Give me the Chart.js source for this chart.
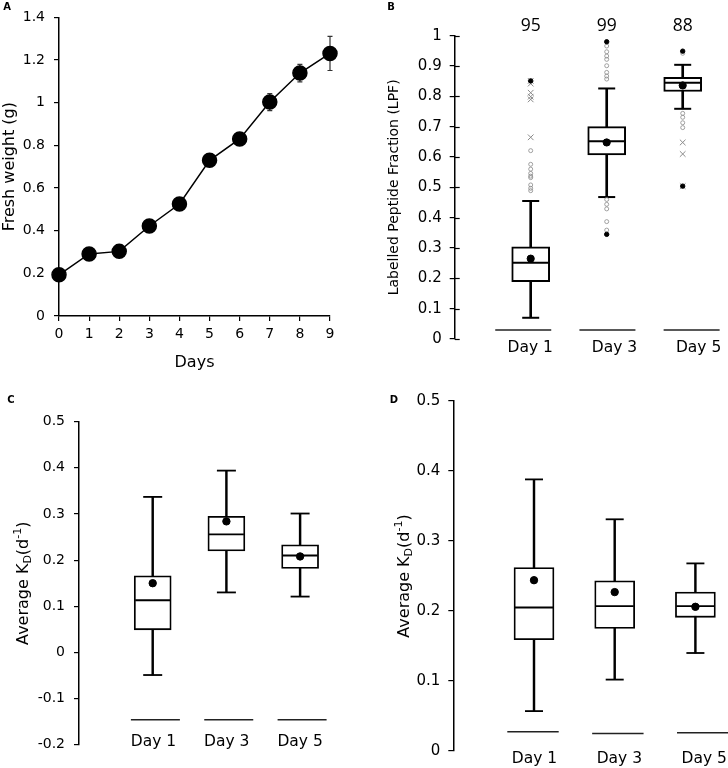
<!DOCTYPE html>
<html><head><meta charset="utf-8">
<script src="https://cdn.jsdelivr.net/npm/chart.js@4.4.0/dist/chart.umd.min.js"></script>
<style>
html,body{margin:0;padding:0;background:#fff;}
#wrap{position:relative;width:728px;height:768px;background:#fff;}
.p{position:absolute;width:364px;height:384px;}
canvas{display:block;}
</style></head><body>
<div id="wrap">
<div class="p" style="left:0;top:0"><canvas id="cA" width="364" height="384"></canvas></div>
<div class="p" style="left:364px;top:0"><canvas id="cB" width="364" height="384"></canvas></div>
<div class="p" style="left:0;top:384px"><canvas id="cC" width="364" height="384"></canvas></div>
<div class="p" style="left:364px;top:384px"><canvas id="cD" width="364" height="384"></canvas></div>
</div>
<script>
// ---------- DATA ----------
// Panel A
const days = [0, 1, 2, 3, 4, 5, 6, 7, 8, 9];
const freshWeight = [0.193, 0.291, 0.303, 0.422, 0.525, 0.730, 0.830, 1.003, 1.139, 1.231];
const freshWeightErr = [0.012, 0.012, 0.012, 0.02, 0.02, 0.015, 0.015, 0.04, 0.041, 0.08];

// Shared categories
const dayLabels = ['Day 1', 'Day 3', 'Day 5'];

// Panel B: Labelled Peptide Fraction
const lpfMin = [0.070, 0.468, 0.759];
const lpfQ1 = [0.189, 0.607, 0.816];
const lpfMedian = [0.251, 0.652, 0.845];
const lpfQ3 = [0.304, 0.700, 0.863];
const lpfMax = [0.455, 0.826, 0.904];
const lpfMean = [0.265, 0.648, 0.836];
const lpfCount = [95, 99, 88];
const lpfOutCircle = [
  [0.489, 0.497, 0.508, 0.532, 0.537, 0.546, 0.560, 0.576, 0.621],
  [0.857, 0.867, 0.879, 0.901, 0.922, 0.933, 0.947, 0.966, 0.460, 0.444, 0.429, 0.387, 0.359],
  [0.942, 0.744, 0.731, 0.713, 0.697]
];
const lpfOutCross = [
  [0.665, 0.790, 0.799, 0.812, 0.842, 0.851],
  [],
  [0.648, 0.610, 0.504]
];
const lpfOutExtreme = [[0.851], [0.980, 0.345], [0.949, 0.504]];
const lpfBaseline = [0.03, 0.03, 0.03];

// Panel C: Average KD
const kdCMin = [-0.049, 0.130, 0.121];
const kdCQ1 = [0.049, 0.220, 0.182];
const kdCMedian = [0.113, 0.256, 0.210];
const kdCQ3 = [0.166, 0.295, 0.233];
const kdCMax = [0.337, 0.394, 0.301];
const kdCMean = [0.150, 0.284, 0.208];
const kdCBaseline = [-0.146, -0.146, -0.146];

// Panel D: Average KD
const kdDMin = [0.057, 0.102, 0.140];
const kdDQ1 = [0.159, 0.175, 0.191];
const kdDMedian = [0.205, 0.207, 0.207];
const kdDQ3 = [0.262, 0.243, 0.227];
const kdDMax = [0.388, 0.331, 0.268];
const kdDMean = [0.244, 0.227, 0.206];
const kdDBaseline = [0.0275, 0.025, 0.026];

// ---------- STYLE ----------
const FONT = "'DejaVu Sans', 'Liberation Sans', sans-serif";
const LABFONT = "'Open Sans', 'Lato', sans-serif";
Chart.defaults.font.family = FONT;
Chart.defaults.color = '#000';
Chart.defaults.animation = false;

const fmtTick = v => String(Math.round(v * 10) / 10 + 0);

function letterPlugin(letter, x, y) {
  return { id: 'letter' + letter, afterDraw(chart) {
    const ctx = chart.ctx; ctx.save();
    ctx.font = 'bold 10px ' + FONT; ctx.fillStyle = '#000';
    ctx.textAlign = 'center'; ctx.textBaseline = 'middle';
    ctx.fillText(letter, x, y); ctx.restore();
  }};
}

function richTitlePlugin(x) {
  return { id: 'richTitle', afterDraw(chart) {
    const ctx = chart.ctx; const ca = chart.chartArea;
    const parts = [['Average K', 0], ['D', 1], ['(d', 0], ['-1', -1], [')', 0]];
    const main = '16px ' + FONT, small = '11px ' + FONT;
    ctx.save();
    let total = 0;
    parts.forEach(p => { ctx.font = p[1] ? small : main; total += ctx.measureText(p[0]).width; });
    ctx.translate(x, (ca.top + ca.bottom) / 2);
    ctx.rotate(-Math.PI / 2);
    ctx.fillStyle = '#000'; ctx.textBaseline = 'alphabetic'; ctx.textAlign = 'left';
    let cx = -total / 2;
    parts.forEach(p => {
      ctx.font = p[1] ? small : main;
      const dy = p[1] === 1 ? 9 : (p[1] === -1 ? -1 : 6);
      ctx.fillText(p[0], cx, dy);
      cx += ctx.measureText(p[0]).width;
    });
    ctx.restore();
  }};
}

// inner half of the crossing tick marks on panel B's y axis
const innerTickPlugin = { id: 'innerTicks', afterDraw(chart) {
  const ctx = chart.ctx, ys = chart.scales.y, x0 = chart.chartArea.left;
  ctx.save(); ctx.strokeStyle = '#000'; ctx.lineWidth = 1.2;
  ys.ticks.forEach(t => {
    const py = Math.round(ys.getPixelForValue(t.value)) + 0.5;
    ctx.beginPath(); ctx.moveTo(x0, py); ctx.lineTo(x0 + 5, py); ctx.stroke();
  });
  ctx.restore();
}};

const errorBarPlugin = { id: 'errbars', beforeDatasetsDraw(chart) {
  const ctx = chart.ctx, xs = chart.scales.x, ys = chart.scales.y;
  ctx.save(); ctx.strokeStyle = '#333'; ctx.lineWidth = 1.2;
  days.forEach((d, i) => {
    const px = xs.getPixelForValue(d);
    const t = ys.getPixelForValue(freshWeight[i] + freshWeightErr[i]);
    const b = ys.getPixelForValue(freshWeight[i] - freshWeightErr[i]);
    ctx.beginPath();
    ctx.moveTo(px, t); ctx.lineTo(px, b);
    ctx.moveTo(px - 2.5, t); ctx.lineTo(px + 2.5, t);
    ctx.moveTo(px - 2.5, b); ctx.lineTo(px + 2.5, b);
    ctx.stroke();
  });
  ctx.restore();
}};

const countPlugin = { id: 'counts', afterDraw(chart) {
  const ctx = chart.ctx, xs = chart.scales.xb;
  ctx.save(); ctx.font = '17.5px ' + LABFONT; ctx.fillStyle = '#000';
  ctx.textAlign = 'center'; ctx.textBaseline = 'middle';
  lpfCount.forEach((c, i) => ctx.fillText(String(c), xs.getPixelForValue(i + 1), chart.chartArea.top - 10));
  ctx.restore();
}};

// ---------- PANEL A ----------
new Chart(document.getElementById('cA'), {
  type: 'line',
  data: { datasets: [{
    data: days.map((d, i) => ({ x: d, y: freshWeight[i] })),
    borderColor: '#000', borderWidth: 1.5, backgroundColor: '#000',
    pointRadius: 7, pointHoverRadius: 7, pointBackgroundColor: '#000', pointBorderColor: '#000',
    clip: false, tension: 0
  }]},
  options: {
    responsive: false, animation: false, events: [],
    layout: { autoPadding: false, padding: { top: 7, right: 34, left: 0, bottom: 0 } },
    plugins: { legend: { display: false }, tooltip: { enabled: false } },
    scales: {
      x: { type: 'linear', min: 0, max: 9,
        ticks: { stepSize: 1, font: { size: 14 }, color: '#000', padding: 5 },
        grid: { display: true, drawOnChartArea: false, drawTicks: true, tickLength: 5, color: '#000', lineWidth: 1.2 },
        border: { color: '#000', width: 1.5 },
        title: { display: true, text: 'Days', font: { size: 16 }, color: '#000', padding: { top: 0, bottom: 12 } },
        afterFit: s => { s.height = 68; } },
      y: { min: 0, max: 1.4,
        ticks: { stepSize: 0.2, font: { size: 14 }, color: '#000', padding: 9, callback: fmtTick },
        grid: { display: true, drawOnChartArea: false, drawTicks: true, tickLength: 5, color: '#000', lineWidth: 1.2 },
        border: { color: '#000', width: 1.5 },
        title: { display: true, text: 'Fresh weight (g)', font: { size: 16 }, color: '#000', padding: { top: 0, bottom: 0 } },
        afterFit: s => { s.width = 59; } }
    }
  },
  plugins: [errorBarPlugin, letterPlugin('A', 7, 7)]
});

// ---------- BOX PANELS ----------
function ptsDs(axis, data, style, r, color, bw, order, fill) {
  return { type: 'line', xAxisID: axis, data, showLine: false, pointStyle: style,
    pointRadius: r, pointHoverRadius: r, pointBorderColor: color, pointBorderWidth: bw,
    pointBackgroundColor: fill || color, order, clip: false };
}

function boxPanel(id, d) {
  const idx = dayLabels.map((_, i) => i + 1);
  const flat = arr => arr.flatMap((vals, i) => vals.map(v => ({ x: i + 1, y: v })));
  const datasets = [
    { type: 'bar', xAxisID: 'xb', data: idx.map((x, i) => ({ x, y: [d.min[i], d.max[i]] })),
      backgroundColor: '#000', barThickness: d.whiskerW, grouped: false, order: 9, clip: false },
    { type: 'bar', xAxisID: 'xb', data: idx.map((x, i) => ({ x, y: [d.q1[i], d.q3[i]] })),
      backgroundColor: '#fff', borderColor: '#000', borderWidth: d.lineW, borderSkipped: false,
      barThickness: d.boxW, grouped: false, order: 8, clip: false },
    ptsDs('xb', idx.map((x, i) => ({ x, y: d.median[i] })), 'line', d.boxW / 2 - 1, '#000', d.lineW, 6),
    ptsDs('xb', idx.flatMap((x, i) => [{ x, y: d.min[i] }, { x, y: d.max[i] }]), 'line', d.capR, '#000', d.lineW, 6),
    ptsDs('xl', idx.map((x, i) => ({ x, y: d.base[i] })), 'line', d.baseR, '#222', 1.5, 6),
    ptsDs('xb', idx.map((x, i) => ({ x, y: d.mean[i] })), 'circle', d.meanR, '#000', 1, 1, '#000')
  ];
  if (d.outCircle) datasets.push(ptsDs('xb', flat(d.outCircle), 'circle', 2, '#8a8a8a', 0.8, 3, 'rgba(255,255,255,0)'));
  if (d.outCross) datasets.push(ptsDs('xb', flat(d.outCross), 'crossRot', 4, '#8a8a8a', 1, 3));
  if (d.outExtreme) datasets.push(ptsDs('xb', flat(d.outExtreme), 'circle', 2.2, '#000', 1, 2, '#000'));

  const plugins = [letterPlugin(d.letter, d.letterX, d.letterY)];
  if (d.rich) plugins.push(richTitlePlugin(d.richX));
  if (d.extra) d.extra.forEach(p => plugins.push(p));

  return new Chart(document.getElementById(id), {
    type: 'bar',
    data: { datasets },
    options: {
      responsive: false, animation: false, events: [],
      layout: { autoPadding: false, padding: { top: d.top, right: 0, left: 0, bottom: d.bottomPad } },
      plugins: { legend: { display: false }, tooltip: { enabled: false } },
      scales: {
        xb: { type: 'linear', display: false, offset: false, min: 0, max: d.boxMax,
          grid: { offset: false } },
        xl: { type: 'linear', position: { y: d.yMin }, offset: false, min: d.labMin, max: d.labMax,
          afterBuildTicks: s => { s.ticks = idx.map(v => ({ value: v })); },
          ticks: { callback: v => dayLabels[v - 1] ?? '', font: { size: 15.5 }, color: '#000',
            padding: d.labPad, labelOffset: d.labOff, maxRotation: 0, autoSkip: false },
          grid: { display: false, drawTicks: false, offset: false }, border: { display: false } },
        y: { min: d.yMin, max: d.yMax,
          ticks: { stepSize: 0.1, font: { size: d.tickSize }, color: '#000', padding: d.tickPad, callback: fmtTick },
          grid: { display: true, drawOnChartArea: false, drawTicks: true, tickLength: 5, color: '#000', lineWidth: 1.2 },
          border: { color: '#000', width: 1.5 },
          title: d.title ? { display: true, text: d.title, font: { size: 14 }, color: '#000', padding: { top: d.titlePad, bottom: 0 } } : { display: false },
          afterFit: s => { s.width = d.left; } }
      }
    },
    plugins
  });
}

boxPanel('cB', {
  min: lpfMin, q1: lpfQ1, median: lpfMedian, q3: lpfQ3, max: lpfMax, mean: lpfMean, base: lpfBaseline,
  outCircle: lpfOutCircle, outCross: lpfOutCross, outExtreme: lpfOutExtreme,
  boxW: 38, whiskerW: 2, lineW: 2, capR: 8.5, meanR: 3.6, baseR: 28,
  top: 35.7, left: 90.7, bottomPad: 45, yMin: 0, yMax: 1, tickSize: 15, tickPad: 8,
  boxMax: 3.596, labMin: 0.186, labMax: 3.432, labPad: 0, labOff: 7,
  title: 'Labelled Peptide Fraction (LPF)', titlePad: 22,
  letter: 'B', letterX: 27, letterY: 7, extra: [countPlugin, innerTickPlugin]
});

boxPanel('cC', {
  min: kdCMin, q1: kdCQ1, median: kdCMedian, q3: kdCQ3, max: kdCMax, mean: kdCMean, base: kdCBaseline,
  boxW: 37, whiskerW: 1.8, lineW: 1.8, capR: 9.5, meanR: 3.7, baseR: 24.5,
  top: 37.7, left: 79, bottomPad: 23.3, yMin: -0.2, yMax: 0.5, tickSize: 14, tickPad: 9,
  boxMax: 3.867, labMin: -0.0416, labMax: 3.844, labPad: -12, labOff: -2,
  rich: true, richX: 22,
  letter: 'C', letterX: 11, letterY: 16
});

boxPanel('cD', {
  min: kdDMin, q1: kdDQ1, median: kdDMedian, q3: kdDQ3, max: kdDMax, mean: kdDMean, base: kdDBaseline,
  boxW: 40, whiskerW: 1.8, lineW: 1.8, capR: 9, meanR: 3.7, baseR: 25.7,
  top: 14.3, left: 89.3, bottomPad: 16.5, yMin: 0, yMax: 0.5, tickSize: 15, tickPad: 8,
  boxMax: 3.404, labMin: 0.0607, labMax: 3.298, labPad: -1.5, labOff: 1.5,
  rich: true, richX: 39,
  letter: 'D', letterX: 30, letterY: 16
});
</script>
</body></html>
